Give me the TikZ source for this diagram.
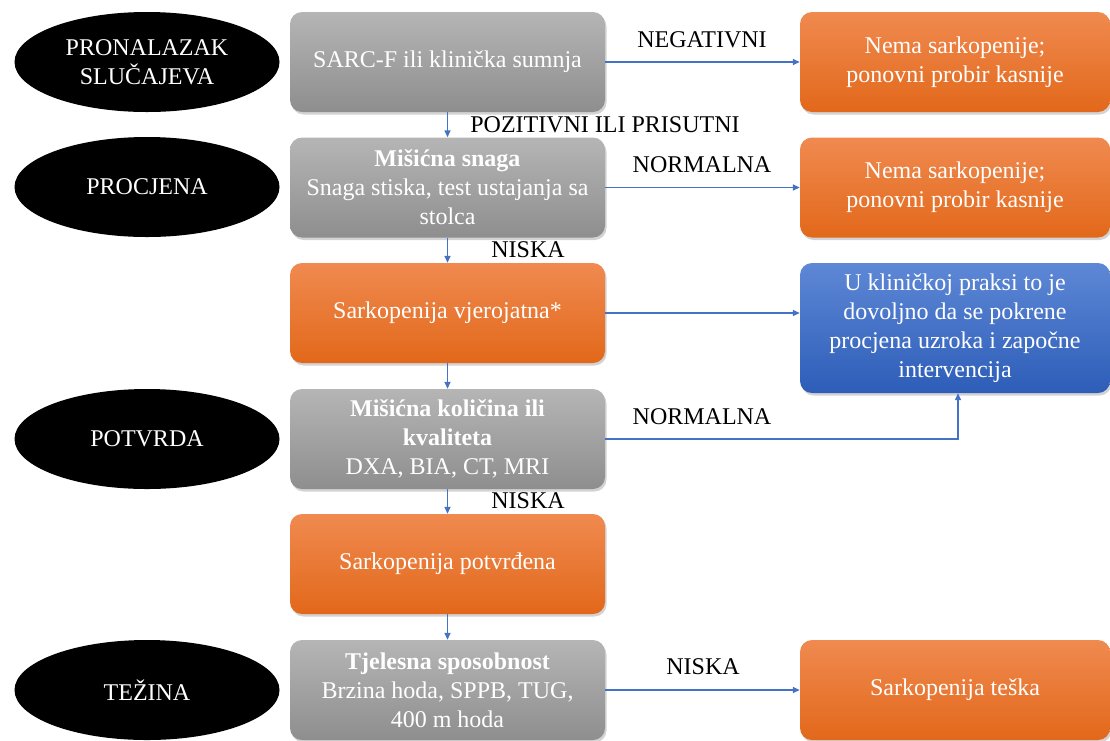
\documentclass[tikz,border=0pt]{standalone}
\usepackage{fontspec}
\setmainfont{Liberation Serif}
\usetikzlibrary{shapes.geometric,shadows,arrows.meta}
\definecolor{grayT}{HTML}{B5B5B5}
\definecolor{grayB}{HTML}{8E8E8E}
\definecolor{orT}{HTML}{F08A50}
\definecolor{orB}{HTML}{E2681A}
\definecolor{blT}{HTML}{5E88D6}
\definecolor{blB}{HTML}{2D5DB8}
\definecolor{arr}{HTML}{4472C4}
\tikzset{
  base/.style={rounded corners=12pt, align=center, text=white, inner sep=2pt,
    font=\fontsize{24}{29}\selectfont,
    drop shadow={opacity=0.35, shadow xshift=1.5pt, shadow yshift=-2.5pt}},
  graybox/.style={base, top color=grayT, bottom color=grayB, minimum width=315pt, minimum height=100pt},
  orbox/.style={base, top color=orT, bottom color=orB, minimum width=315pt, minimum height=100pt},
  rbox/.style={base, top color=orT, bottom color=orB, minimum width=310pt, minimum height=100pt},
  bluebox/.style={base, top color=blT, bottom color=blB, minimum width=310pt, minimum height=130pt},
  stage/.style={ellipse, fill=black, text=white, minimum width=265pt, minimum height=100pt,
    inner sep=0pt, align=center, font=\fontsize{24}{29}\selectfont},
  lbl/.style={font=\fontsize{24}{29}\selectfont, text=black, inner sep=0pt},
  conn/.style={draw=arr, line width=1.4pt, -{Triangle[length=7pt,width=6pt]}}
}
\begin{document}
\begin{tikzpicture}[x=1pt,y=-1pt]
\useasboundingbox (0,0) rectangle (1110,740);
% stages
\node[stage] (e1) at (147,62) {PRONALAZAK\\SLUČAJEVA};
\node[stage] (e2) at (147,187) {PROCJENA};
\node[stage] (e3) at (147,439) {POTVRDA};
\node[stage] (e4) at (147,690) {TEŽINA};
% middle column
\node[graybox] (g1) at (447.5,62) {SARC-F ili klinička sumnja};
\node[graybox] (g2) at (447.5,187.5) {\textbf{Mišićna snaga}\\Snaga stiska, test ustajanja sa\\stolca};
\node[orbox] (o3) at (447.5,313) {Sarkopenija vjerojatna*};
\node[graybox] (g4) at (447.5,439) {\textbf{Mišićna količina ili}\\\textbf{kvaliteta}\\DXA, BIA, CT, MRI};
\node[orbox] (o5) at (447.5,564) {Sarkopenija potvrđena};
\node[graybox] (g6) at (447.5,690) {\textbf{Tjelesna sposobnost}\\Brzina hoda, SPPB, TUG,\\400 m hoda};
% right column
\node[rbox] (r1) at (955,62) {Nema sarkopenije;\\ponovni probir kasnije};
\node[rbox] (r2) at (955,187.5) {Nema sarkopenije;\\ponovni probir kasnije};
\node[bluebox] (b3) at (955,328) {U kliničkoj praksi to je\\dovoljno da se pokrene\\procjena uzroka i započne\\intervencija};
\node[rbox] (r6) at (955,690) {Sarkopenija teška};
% connectors
\draw[conn] (g1) -- (g2);
\draw[conn] (g2) -- (o3);
\draw[conn] (o3) -- (g4);
\draw[conn] (g4) -- (o5);
\draw[conn] (o5) -- (g6);
\draw[conn] (g1.east) -- (r1.west);
\draw[conn] (g2.east) -- (r2.west);
\draw[conn] (o3.east) -- (o3.east -| b3.west);
\draw[conn] (g4.east) -| ([xshift=3pt]b3.south);
\draw[conn] (g6.east) -- (r6.west);
% labels
\node[lbl] (l1) at (702,40) {NEGATIVNI};
\node[lbl] (l2) at (605,125) {POZITIVNI ILI PRISUTNI};
\node[lbl] (l3) at (702,165) {NORMALNA};
\node[lbl] (l4) at (528,250) {NISKA};
\node[lbl] (l5) at (702,417) {NORMALNA};
\node[lbl] (l6) at (528,501) {NISKA};
\node[lbl] (l7) at (703,667) {NISKA};
\end{tikzpicture}
\end{document}
